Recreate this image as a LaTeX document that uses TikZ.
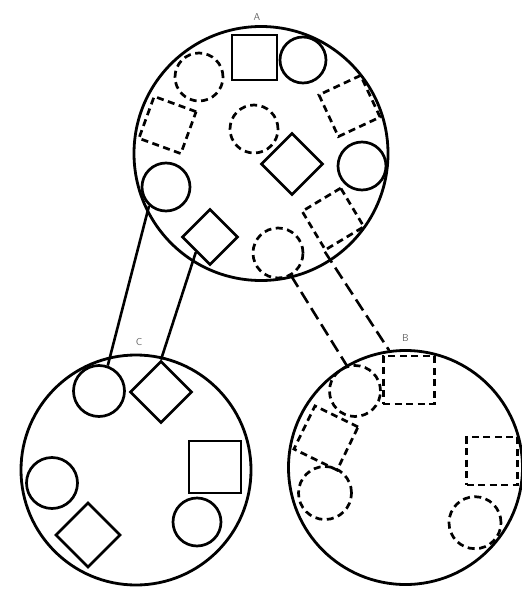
\documentclass[tikz,border=0pt]{standalone}
\usepackage{tikz}
\usetikzlibrary{shapes.geometric, positioning}

\begin{document}
\begin{tikzpicture}[
    x=1pt, y=-1pt,
    group/.style={circle, draw, line width=2.8pt, inner sep=0pt, minimum size=#1},
    tag/.style={font=\sffamily, text=black!60, inner sep=1pt},
    item/.style={draw, line width=2.7pt, inner sep=0pt},
    sq/.style={item, rectangle, minimum size=#1},
    dot/.style={item, circle, minimum size=#1},
    dia/.style={item, diamond, minimum width=#1, minimum height=#1},
    ghost/.style={dash pattern=on 7pt off 4.5pt},
    link/.style={line width=2.6pt},
    dlink/.style={link, dash pattern=on 13pt off 6pt}
]
\useasboundingbox (0,0) rectangle (522,605);

\node[group=254] (grpA) at (261,153.5) {};
\node[group=234] (grpB) at (405.5,467.5) {};
\node[group=230] (grpC) at (136,470) {};
\node[tag, above=3pt of grpA, xshift=-4pt] (tagA) {A};
\node[tag, above=6pt of grpB] (tagB) {B};
\node[tag, above=7pt of grpC, xshift=3pt] (tagC) {C};

\node[sq=45] (asq) at (254.5,57.5) {};
\node[dot=46] (acl1) at (303,60) {};
\node[dot=48, ghost] (adc1) at (199,77) {};
\node[sq=44.6, ghost, rotate=-20] (ads1) at (167.5,125) {};
\node[dot=48, ghost] (adc2) at (254,129) {};
\node[dia=62] (adia1) at (292,164) {};
\node[sq=46, ghost, rotate=25] (ads2) at (349.5,106) {};
\node[dot=48] (acl2) at (362,166) {};
\node[dot=48] (acl3) at (166,187) {};
\node[dia=56] (adia2) at (210,237) {};
\node[dot=50, ghost] (adc3) at (278,253) {};
\node[sq=45, ghost, rotate=31] (ads3) at (333,219) {};

\node[dot=51, ghost] (bdc1) at (355,391) {};
\node[sq=48, ghost, minimum width=51] (bds1) at (408.7,380) {};
\node[sq=48, ghost, rotate=-26] (bds2) at (326,438) {};
\node[dot=53, ghost] (bdc2) at (325,493) {};
\node[sq=48, ghost, minimum width=51] (bds3) at (492,461) {};
\node[dot=52, ghost] (bdc3) at (475,522.7) {};

\node[dot=51] (ccl1) at (99,391) {};
\node[dia=62] (cdia1) at (161,392) {};
\node[sq=52] (csq) at (215,467) {};
\node[dot=51] (ccl2) at (52,483) {};
\node[dia=65] (cdia2) at (88,535) {};
\node[dot=48] (ccl3) at (197,522) {};

\draw[link] (acl3.228) -- (ccl1.71);
\draw[link] (adia2.227) -- (cdia1.north);
\draw[dlink] (adc3.300) -- (bdc1.108);
\draw[dlink] (ads3.south west) -- (grpB.98);
\end{tikzpicture}
\end{document}
